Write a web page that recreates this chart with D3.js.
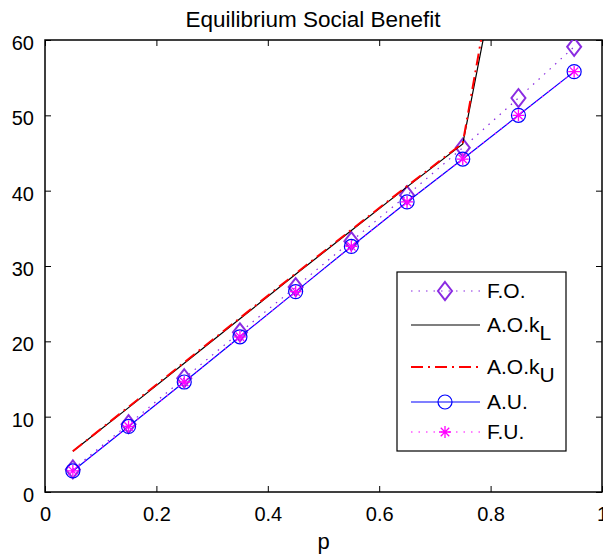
<!DOCTYPE html>
<html>
<head>
<meta charset="utf-8">
<script src="https://cdn.jsdelivr.net/npm/d3@7"></script>
<style>
  body { margin: 0; background: #fff; }
  svg { font-family: "Liberation Sans", Arial, sans-serif; }
</style>
</head>
<body>
<div id="canvas"></div>
<script>
// values
const pValues = [0.05, 0.15, 0.25, 0.35, 0.45, 0.55, 0.65, 0.75, 0.85, 0.95];
const foValues = [3.0, 9.0, 15.1, 21.2, 27.2, 33.3, 39.4, 45.7, 52.3, 59.1];
const aoLowValues = [5.4, 11.2, 17.1, 23.0, 28.9, 34.7, 40.5, 46.2, 84, 120];
const aoUpValues = [5.4, 11.3, 17.2, 23.1, 29.0, 34.8, 40.6, 46.3, 88, 125];
const auValues = [2.8, 8.7, 14.6, 20.6, 26.6, 32.6, 38.5, 44.2, 50.0, 55.8];
const fuValues = [2.8, 8.7, 14.6, 20.6, 26.6, 32.6, 38.5, 44.2, 50.0, 55.8];
const xTicks = [0, 0.2, 0.4, 0.6, 0.8, 1];
const yTicks = [0, 10, 20, 30, 40, 50, 60];

const width = 603;
const height = 555;
const margin = { top: 40, left: 45, bottom: 63, right: 1 };
const iwidth = width - margin.left - margin.right;
const iheight = height - margin.top - margin.bottom;

const svg = d3.select("#canvas").append("svg")
  .attr("width", width)
  .attr("height", height);

const g = svg.append("g")
  .attr("transform", `translate(${margin.left},${margin.top})`);

const x = d3.scaleLinear().domain([0, 1]).range([0, iwidth]);
const y = d3.scaleLinear().domain([0, 60]).range([iheight, 0]);

svg.append("defs").append("clipPath")
  .attr("id", "plot-clip")
  .append("rect")
  .attr("width", iwidth)
  .attr("height", iheight);

// axes with inward ticks (box style)
g.append("g")
  .attr("transform", `translate(0,${iheight})`)
  .call(d3.axisBottom(x).tickValues(xTicks).tickFormat(d3.format("~g"))
    .tickSizeInner(-6).tickSizeOuter(0).tickPadding(15))
  .call(a => a.select(".domain").remove());

g.append("g")
  .call(d3.axisTop(x).tickValues(xTicks).tickFormat("")
    .tickSizeInner(-6).tickSizeOuter(0))
  .call(a => a.select(".domain").remove());

g.append("g")
  .attr("class", "y-axis")
  .call(d3.axisLeft(y).tickValues(yTicks)
    .tickSizeInner(-6).tickSizeOuter(0).tickPadding(11))
  .call(a => a.select(".domain").remove());

g.append("g")
  .attr("transform", `translate(${iwidth},0)`)
  .call(d3.axisRight(y).tickValues(yTicks).tickFormat("")
    .tickSizeInner(-6).tickSizeOuter(0))
  .call(a => a.select(".domain").remove());

g.selectAll(".tick text")
  .attr("font-size", 20)
  .attr("font-family", "Liberation Sans, Arial, sans-serif")
  .attr("fill", "#000");
g.selectAll(".y-axis .tick text").attr("dy", "0.47em");
g.selectAll(".tick line").attr("stroke", "#000");

g.append("rect")
  .attr("width", iwidth)
  .attr("height", iheight)
  .attr("fill", "none")
  .attr("stroke", "#000")
  .attr("stroke-width", 1.5);

const series = [
  { name: "F.O.", values: foValues, color: "#8a2be2", dash: "1.5,6", marker: "diamond" },
  { name: "A.O.k", sub: "L", values: aoLowValues, color: "#000", dash: null, marker: null },
  { name: "A.O.k", sub: "U", values: aoUpValues, color: "#ff0000", dash: "12,5,2,5", marker: null, width: 2 },
  { name: "A.U.", values: auValues, color: "#0000ff", dash: null, marker: "circle" },
  { name: "F.U.", values: fuValues, color: "#ff00ff", dash: "1.5,6", marker: "star" }
];

const line = d3.line()
  .x((d, i) => x(pValues[i]))
  .y(d => y(d));

const plot = g.append("g").attr("clip-path", "url(#plot-clip)");

function drawMarker(sel, type, color) {
  if (type === "diamond") {
    sel.append("path")
      .attr("d", "M0,-9L7,0L0,9L-7,0Z")
      .attr("fill", "none")
      .attr("stroke", color)
      .attr("stroke-width", 2);
  } else if (type === "circle") {
    sel.append("circle")
      .attr("r", 7)
      .attr("fill", "none")
      .attr("stroke", color)
      .attr("stroke-width", 1.2);
  } else if (type === "star") {
    const r = 6;
    let d = "";
    for (let k = 0; k < 4; k++) {
      const a = k * Math.PI / 4;
      d += `M${-r * Math.cos(a)},${-r * Math.sin(a)}L${r * Math.cos(a)},${r * Math.sin(a)}`;
    }
    sel.append("path")
      .attr("d", d)
      .attr("stroke", color)
      .attr("stroke-width", 1.3);
  }
}

series.forEach(s => {
  plot.append("path")
    .datum(s.values)
    .attr("d", line)
    .attr("fill", "none")
    .attr("stroke", s.color)
    .attr("stroke-width", s.width || 1.2)
    .attr("stroke-dasharray", s.dash);

  if (s.marker) {
    plot.selectAll(null)
      .data(s.values)
      .enter()
      .append("g")
      .attr("transform", (d, i) => `translate(${x(pValues[i])},${y(d)})`)
      .each(function () { drawMarker(d3.select(this), s.marker, s.color); });
  }
});

// title and label
svg.append("text")
  .attr("x", 313)
  .attr("y", 27)
  .attr("text-anchor", "middle")
  .attr("font-size", 22.5)
  .text("Equilibrium Social Benefit");

svg.append("text")
  .attr("x", margin.left + iwidth / 2)
  .attr("y", 549)
  .attr("text-anchor", "middle")
  .attr("font-size", 22)
  .text("p");

// legend
const legend = svg.append("g").attr("transform", "translate(397,272)");
legend.append("rect")
  .attr("width", 169)
  .attr("height", 179)
  .attr("fill", "#fff")
  .attr("stroke", "#000")
  .attr("stroke-width", 1.2);

const legendY = [19, 53, 95, 130, 160];
series.forEach((s, i) => {
  const row = legend.append("g").attr("transform", `translate(0,${legendY[i]})`);
  row.append("line")
    .attr("x1", 14).attr("x2", 83)
    .attr("stroke", s.color)
    .attr("stroke-width", s.width || 1.2)
    .attr("stroke-dasharray", s.dash);
  if (s.marker) {
    const m = row.append("g").attr("transform", "translate(48,0)");
    drawMarker(m, s.marker, s.color);
  }
  const t = row.append("text")
    .attr("x", 90)
    .attr("y", 7)
    .attr("font-size", 21)
    .text(s.name);
  if (s.sub) {
    t.append("tspan")
      .attr("dy", 8)
      .attr("font-size", 21)
      .text(s.sub);
  }
});
</script>
</body>
</html>
